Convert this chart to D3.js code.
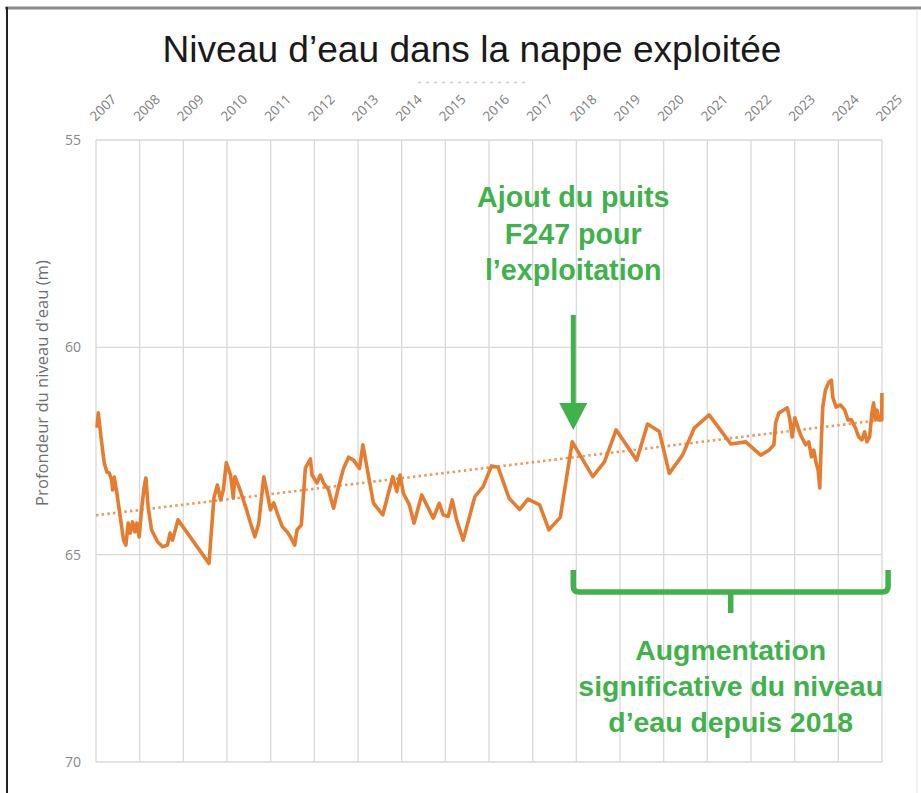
<!DOCTYPE html>
<html><head><meta charset="utf-8">
<script src="https://cdn.jsdelivr.net/npm/d3@7"></script>
<style>body{margin:0;background:#fff} svg{display:block}</style>
</head><body>
<script>
// ---------- DATA ----------
const chartTitle = "Niveau d’eau dans la nappe exploitée";
const yAxisTitle = "Profondeur du niveau d'eau (m)";
const yearTicks = [2007,2008,2009,2010,2011,2012,2013,2014,2015,2016,2017,2018,2019,2020,2021,2022,2023,2024,2025];
const depthTicks = [55,60,65,70];
// decimal year of each reading
const dateYears = [
 2007.023,2007.053,2007.114,2007.189,2007.251,2007.304,2007.358,2007.381,2007.418,2007.479,
 2007.555,2007.632,2007.685,2007.737,2007.783,2007.838,2007.890,2007.936,2007.989,2008.043,
 2008.103,2008.142,2008.194,2008.272,2008.409,2008.523,2008.637,2008.696,2008.751,2008.804,
 2008.879,2009.587,2009.701,2009.779,2009.854,2009.916,2009.984,2010.082,2010.144,2010.180,
 2010.272,2010.425,2010.539,2010.637,2010.728,2010.842,2010.920,2010.995,2011.071,2011.148,
 2011.263,2011.377,2011.452,2011.550,2011.605,2011.703,2011.795,2011.909,2011.947,2012.062,
 2012.137,2012.212,2012.326,2012.441,2012.555,2012.669,2012.783,2012.897,2013.034,2013.112,
 2013.203,2013.354,2013.568,2013.696,2013.797,2013.888,2013.963,2014.039,2014.176,2014.283,
 2014.459,2014.573,2014.724,2014.861,2014.952,2015.066,2015.158,2015.258,2015.409,2015.676,
 2015.865,2016.057,2016.208,2016.459,2016.703,2016.893,2017.160,2017.372,2017.632,2017.906,
 2018.377,2018.644,2018.911,2019.381,2019.632,2019.900,2020.128,2020.432,2020.699,2021.041,
 2021.537,2021.879,2022.221,2022.411,2022.525,2022.564,2022.639,2022.753,2022.829,2022.883,
 2022.943,2023.005,2023.057,2023.135,2023.249,2023.324,2023.386,2023.438,2023.491,2023.537,
 2023.575,2023.614,2023.644,2023.705,2023.781,2023.842,2023.872,2023.947,2024.048,2024.146,
 2024.221,2024.299,2024.390,2024.466,2024.541,2024.603,2024.655,2024.717,2024.769,2024.808,
 2024.847,2024.884,2024.938,2024.995,2024.998
];
// depth to the water level (m)
const depths = [
 61.94,61.58,62.16,62.79,63.01,63.03,63.20,63.44,63.13,63.52,
 64.09,64.65,64.77,64.24,64.48,64.21,64.45,64.24,64.57,63.92,
 63.37,63.15,63.85,64.40,64.69,64.81,64.77,64.48,64.65,64.45,
 64.16,65.21,63.63,63.32,63.68,63.44,62.78,63.08,63.63,63.12,
 63.36,63.84,64.24,64.57,64.24,63.12,63.51,63.92,63.75,63.99,
 64.32,64.45,64.57,64.77,64.40,64.28,62.91,62.69,63.08,63.27,
 63.08,63.27,63.44,63.88,63.36,62.92,62.65,62.72,62.92,62.35,
 62.88,63.76,64.04,63.52,63.12,63.48,63.08,63.52,63.80,64.24,
 63.56,63.80,64.12,63.76,64.04,64.08,63.68,64.16,64.65,63.60,
 63.36,62.86,62.89,63.64,63.91,63.66,63.80,64.40,64.10,62.28,
 63.12,62.76,61.99,62.72,61.85,62.03,63.04,62.60,61.95,61.63,
 62.33,62.28,62.60,62.48,62.35,61.82,61.58,61.51,61.46,61.70,
 62.16,61.70,61.87,62.11,62.35,62.28,62.64,62.48,62.79,62.96,
 63.39,62.16,61.44,61.03,60.84,60.79,61.20,61.44,61.39,61.51,
 61.75,61.75,61.94,62.16,62.23,62.04,62.28,62.16,61.58,61.34,
 61.75,61.51,61.75,61.75,61.10
];
const trendYears = [2007, 2025];
const trendDepths = [64.05, 61.75];
const noteTop = ["Ajout du puits", "F247 pour", "l’exploitation"];
const noteBottom = ["Augmentation", "significative du niveau", "d’eau depuis 2018"];
const wellYear = 2017.93;
const bracketYears = [2017.93, 2025.14];

// ---------- DRAW ----------
const W = 921, H = 793;
const svg = d3.select("body").append("svg").attr("width", W).attr("height", H);
const x = d3.scaleLinear().domain([2007, 2025]).range([96, 882]);
const y = d3.scaleLinear().domain([55, 70]).range([140, 762]);
const green = "#3fb24b", orange = "#e57c2f", gridC = "#d9d9d9", labC = "#7d7d7d";

// frame
svg.append("line").attr("x1",5).attr("x2",W).attr("y1",8).attr("y2",8).attr("stroke","#8a8a8a").attr("stroke-width",3);
svg.append("line").attr("x1",7).attr("x2",7).attr("y1",7).attr("y2",H).attr("stroke","#222").attr("stroke-width",2);
svg.append("line").attr("x1",917).attr("x2",917).attr("y1",9).attr("y2",H).attr("stroke","#e4e4e4").attr("stroke-width",1);

function fitLines(sel, widths) {
  const r = [];
  sel.each(function(d,i){ r.push(widths[i] / this.getComputedTextLength()); });
  const k = d3.mean(r);
  const fs = parseFloat(sel.attr("font-size"));
  sel.attr("font-size", fs * k);
}

// title
const t = svg.append("text").attr("x", 472).attr("y", 62).attr("text-anchor","middle")
  .attr("font-family","'Liberation Sans Narrow','Liberation Sans',Arial,sans-serif").attr("font-size",34)
  .attr("fill","#1a1a1a").text(chartTitle);
fitLines(t, [619]);
svg.append("line").attr("x1",418).attr("x2",525).attr("y1",82.5).attr("y2",82.5)
  .attr("stroke","#d0d0d0").attr("stroke-width",1.5).attr("stroke-dasharray","3,5");

// grid
const g = svg.append("g");
g.selectAll(".vg").data(yearTicks).join("line").attr("x1",d=>x(d)).attr("x2",d=>x(d))
  .attr("y1",y(55)).attr("y2",y(70)).attr("stroke",gridC).attr("stroke-width",1.3);
g.selectAll(".hg").data(depthTicks).join("line").attr("x1",x(2007)).attr("x2",x(2025))
  .attr("y1",d=>y(d)).attr("y2",d=>y(d)).attr("stroke",gridC).attr("stroke-width",1.3);

// axes labels (top x axis, reversed y axis)
const xAxis = d3.axisTop(x).tickValues(yearTicks).tickFormat(d3.format("d")).tickSize(0);
const xg = svg.append("g").attr("transform",`translate(0,${y(55)})`).call(xAxis);
xg.select(".domain").remove();
xg.selectAll("text").attr("font-family","'Open Sans',sans-serif").attr("font-size",13.5)
  .attr("fill",labC).attr("text-anchor","start").attr("dy",0).attr("y",0)
  .attr("transform","translate(-1,-18) rotate(-45)");

const yAxis = d3.axisLeft(y).tickValues(depthTicks).tickSize(0).tickPadding(0);
const yg = svg.append("g").attr("transform",`translate(81,0)`).call(yAxis);
yg.select(".domain").remove();
yg.selectAll("text").attr("font-family","'Open Sans',sans-serif").attr("font-size",14).attr("fill","#888");

const yt = svg.append("text").attr("transform","translate(48,383) rotate(-90)").attr("text-anchor","middle")
  .attr("font-family","'Open Sans',sans-serif").attr("font-size",13).attr("fill","#6e6e6e").text(yAxisTitle);
fitLines(yt, [246]);

// trend
svg.append("path").datum(d3.zip(trendYears, trendDepths))
  .attr("d", d3.line().x(d=>x(d[0])).y(d=>y(d[1])))
  .attr("fill","none").attr("stroke","#eb9a5e").attr("stroke-width",2.6).attr("stroke-dasharray","2.5,3.2");

// series
svg.append("path").datum(d3.zip(dateYears, depths))
  .attr("d", d3.line().x(d=>x(d[0])).y(d=>y(d[1])))
  .attr("fill","none").attr("stroke",orange).attr("stroke-width",3.6).attr("stroke-linejoin","round");

// annotations
const bold = "'Liberation Sans','Arial',sans-serif";
const nt = svg.append("g").selectAll("text").data(noteTop).join("text")
  .attr("x", x(wellYear)).attr("y",(d,i)=>207 + i*36.5).attr("text-anchor","middle")
  .attr("font-family",bold).attr("font-weight","bold").attr("font-size",24).attr("fill",green).text(d=>d);
fitLines(nt, [190,138,178]);

const ax = x(wellYear);
svg.append("line").attr("x1",ax).attr("x2",ax).attr("y1",315).attr("y2",406)
  .attr("stroke",green).attr("stroke-width",5);
svg.append("path").attr("d",`M${ax-14},403 L${ax+14},403 L${ax},430 Z`).attr("fill",green);

const bx0 = x(bracketYears[0]), bx1 = x(bracketYears[1]), bm = (bx0+bx1)/2;
svg.append("path").attr("d",
  `M${bx0},570 L${bx0},586 Q${bx0},592 ${bx0+6},592 L${bx1-6},592 Q${bx1},592 ${bx1},586 L${bx1},570 M${bm},592 L${bm},613`)
  .attr("fill","none").attr("stroke",green).attr("stroke-width",5.5).attr("stroke-linejoin","round");

const nb = svg.append("g").selectAll("text").data(noteBottom).join("text")
  .attr("x", bm).attr("y",(d,i)=>660 + i*36).attr("text-anchor","middle")
  .attr("font-family",bold).attr("font-weight","bold").attr("font-size",24).attr("fill",green).text(d=>d);
fitLines(nb, [192,302,246]);
</script>
</body></html>
